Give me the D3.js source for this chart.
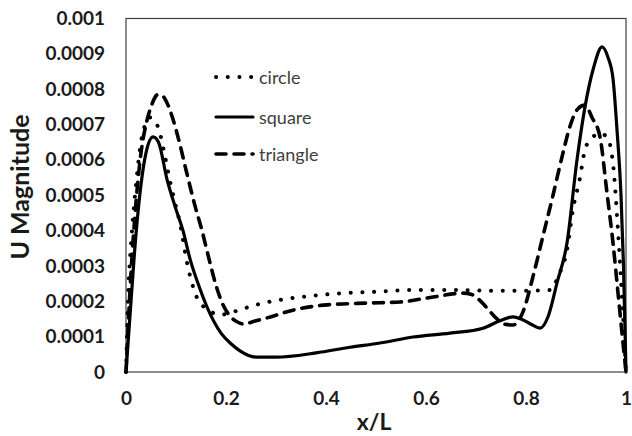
<!DOCTYPE html>
<html><head><meta charset="utf-8">
<script src="https://cdn.jsdelivr.net/npm/d3@7"></script>
<style>body{margin:0;background:#fff}svg{display:block}</style>
</head><body>
<svg id="c" width="632" height="436"></svg>
<script>
// ---- data (values in units of 1e-4) ----
const circleX = [0,0.005,0.01,0.02,0.03,0.04,0.048,0.058,0.066,0.078,0.088,0.098,0.108,0.122,0.142,0.155,0.17,0.19,0.21,0.232,0.274,0.322,0.368,0.434,0.5,0.568,0.662,0.728,0.8,0.85,0.864,0.882,0.894,0.908,0.918,0.928,0.948,0.962,0.974,0.984,0.992,1.0];
const circleY = [0,2.4,3.6,5.3,6.5,7.05,7.2,7.1,6.85,6.1,5.4,4.8,4.2,3.1,2.1,1.85,1.7,1.62,1.68,1.78,1.95,2.07,2.15,2.23,2.27,2.32,2.32,2.3,2.3,2.32,2.7,3.45,4.6,5.5,6.3,6.55,6.75,6.65,5.9,4.0,2.1,0];
const squareX = [0,0.01,0.02,0.03,0.04,0.054,0.065,0.082,0.1,0.114,0.128,0.148,0.168,0.19,0.21,0.228,0.245,0.264,0.3,0.38,0.448,0.508,0.574,0.648,0.714,0.748,0.774,0.79,0.81,0.828,0.845,0.862,0.882,0.902,0.918,0.935,0.952,0.964,0.974,0.982,0.99,0.995,1.0];
const squareY = [0,2.0,3.9,5.3,6.2,6.65,6.5,5.45,4.6,4.0,3.2,2.35,1.65,1.1,0.8,0.6,0.47,0.42,0.42,0.54,0.7,0.82,0.99,1.1,1.24,1.45,1.56,1.5,1.35,1.24,1.6,2.52,3.65,6.0,7.5,8.6,9.2,8.9,8.3,6.85,5.0,3.0,0];
const triangleX = [0,0.01,0.02,0.03,0.04,0.05,0.064,0.074,0.084,0.094,0.104,0.122,0.138,0.152,0.166,0.18,0.194,0.21,0.222,0.234,0.26,0.282,0.334,0.402,0.482,0.548,0.614,0.674,0.69,0.706,0.722,0.742,0.758,0.774,0.794,0.814,0.834,0.854,0.874,0.888,0.904,0.918,0.932,0.948,0.962,0.974,0.984,0.994,1.0];
const triangleY = [0,2.8,4.8,6.2,7.0,7.5,7.85,7.8,7.55,7.15,6.65,5.6,4.7,4.0,3.2,2.45,1.9,1.55,1.42,1.36,1.45,1.53,1.75,1.9,1.95,1.98,2.12,2.23,2.2,2.05,1.81,1.5,1.35,1.33,1.7,2.7,3.85,5.0,6.2,6.95,7.45,7.55,7.2,6.65,5.06,3.65,2.24,0.82,0];
const xTicks = [0,0.2,0.4,0.6,0.8,1];
const xTickLabels = ["0","0.2","0.4","0.6","0.8","1"];
const yTicks = [0,0.0001,0.0002,0.0003,0.0004,0.0005,0.0006,0.0007,0.0008,0.0009,0.001];
const yTickLabels = ["0","0.0001","0.0002","0.0003","0.0004","0.0005","0.0006","0.0007","0.0008","0.0009","0.001"];
const seriesNames = ["circle","square","triangle"];

const svg = d3.select("#c");
const L = 126, R = 626, T = 18.5, B = 372;
const x = d3.scaleLinear().domain([0,1]).range([L,R]);
const y = d3.scaleLinear().domain([0,0.001]).range([B,T]);
const font = "Lato, 'Open Sans', sans-serif";
const txt = "#1a1a1a";

// frame
svg.append("rect").attr("x",L).attr("y",T).attr("width",R-L).attr("height",B-T)
  .attr("fill","none").attr("stroke","#404040").attr("stroke-width",1.2);

// axes (labels only)
const yAxis = d3.axisLeft(y).tickValues(yTicks).tickFormat((d,i)=>yTickLabels[i]).tickSize(0).tickPadding(21);
const gy = svg.append("g").attr("transform",`translate(${L},0)`).call(yAxis);
gy.select(".domain").remove();
gy.selectAll("text").attr("font-family",font).attr("font-weight","bold").attr("font-size",19).attr("fill",txt);

const xAxis = d3.axisBottom(x).tickValues(xTicks).tickFormat((d,i)=>xTickLabels[i]).tickSize(0).tickPadding(20);
const gx = svg.append("g").attr("transform",`translate(0,${B})`).call(xAxis);
gx.select(".domain").remove();
gx.selectAll("text").attr("font-family",font).attr("font-weight","bold").attr("font-size",19).attr("fill",txt);

// titles
svg.append("text").attr("x",374).attr("y",430).attr("text-anchor","middle")
  .attr("font-family",font).attr("font-weight","bold").attr("font-size",23).attr("fill",txt).text("x/L");
svg.append("text").attr("transform","translate(29,187) rotate(-90)").attr("text-anchor","middle")
  .attr("font-family",font).attr("font-weight","bold").attr("font-size",25).attr("fill",txt).text("U Magnitude");

// lines
const line = d3.line().x(d=>x(d[0])).y(d=>y(d[1]*1e-4)).curve(d3.curveMonotoneX);
const styles = {
  circle:   {dash:"0.1 11.6", cap:"round", w:4},
  square:   {dash:null, cap:"round", w:3.2},
  triangle: {dash:"10 8", cap:"round", w:3.6}
};
const data = {
  circle: circleX.map((v,i)=>[v,circleY[i]]),
  square: squareX.map((v,i)=>[v,squareY[i]]),
  triangle: triangleX.map((v,i)=>[v,triangleY[i]])
};
seriesNames.forEach(n=>{
  svg.append("path").datum(data[n]).attr("d",line).attr("fill","none")
    .attr("stroke","#000").attr("stroke-width",styles[n].w)
    .attr("stroke-linecap",styles[n].cap).attr("stroke-linejoin","round")
    .attr("stroke-dasharray",styles[n].dash);
});

// legend
const legY = [77,117,154];
seriesNames.forEach((n,i)=>{
  svg.append("line").attr("x1",216).attr("x2",253).attr("y1",legY[i]).attr("y2",legY[i])
    .attr("stroke","#000").attr("stroke-width",styles[n].w)
    .attr("stroke-linecap",styles[n].cap).attr("stroke-dasharray",styles[n].dash);
  svg.append("text").attr("x",259).attr("y",legY[i]).attr("dominant-baseline","central")
    .attr("font-family",font).attr("font-size",18).attr("fill","#404040").text(n);
});
</script>
</body></html>
